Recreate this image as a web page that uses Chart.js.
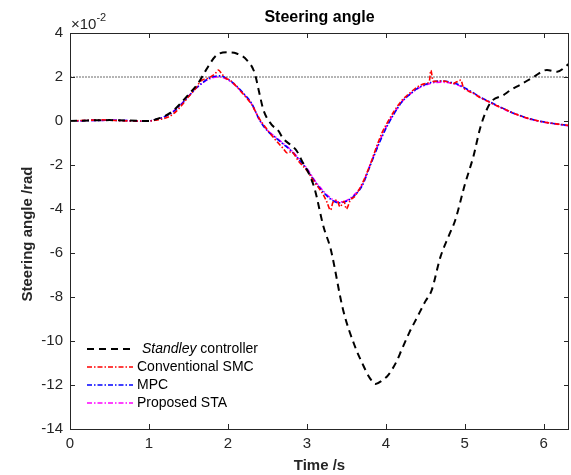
<!DOCTYPE html>
<html>
<head>
<meta charset="utf-8">
<script src="https://cdn.jsdelivr.net/npm/chart.js@4.4.1/dist/chart.umd.min.js"></script>
<style>
html,body{margin:0;padding:0;background:#fff;}
#wrap{width:571px;height:475px;}
</style>
</head>
<body>
<div id="wrap"><canvas id="c" width="571" height="475"></canvas></div>
<script>
// Steering angle values in units of 1e-2 rad
const seriesNames = ["Standley controller", "Conventional SMC", "MPC", "Proposed STA"];
const xTicks = [0, 1, 2, 3, 4, 5, 6];
const yTicks = [-14, -12, -10, -8, -6, -4, -2, 0, 2, 4];
const refLevel = 2;

const tStandley = [0,0.5,1.0,1.1,1.2,1.3,1.4,1.5,1.62,1.72,1.86,2.0,2.11,2.24,2.34,2.39,2.45,2.55,2.64,2.7,2.8,2.87,2.95,3.04,3.1,3.21,3.3,3.46,3.61,3.7,3.8,3.87,3.95,4.03,4.14,4.2,4.3,4.39,4.5,4.58,4.69,4.8,4.88,5.0,5.11,5.2,5.32,5.49,5.6,5.7,5.87,6.04,6.17,6.32];
const standley  = [0,0.04,0,0.09,0.22,0.45,0.8,1.2,1.7,2.3,3.0,3.12,3.07,2.77,2.17,1.4,0.5,-0.15,-0.45,-0.8,-1.1,-1.35,-1.9,-2.5,-3.1,-4.8,-5.8,-8.6,-10.26,-11.0,-11.7,-11.95,-11.8,-11.55,-10.9,-10.4,-9.6,-8.97,-8.2,-7.7,-6.2,-5.2,-4.5,-2.9,-1.6,-0.26,0.8,1.18,1.45,1.64,2.0,2.32,2.24,2.6];

const tGrid = [0,0.1,0.2,0.3,0.4,0.5,0.6,0.7,0.8,0.9,1.0,1.1,1.2,1.3,1.4,1.5,1.6,1.7,1.8,1.9,2.0,2.1,2.2,2.3,2.4,2.5,2.6,2.7,2.8,2.9,3.0,3.1,3.2,3.3,3.4,3.5,3.6,3.7,3.8,3.9,4.0,4.1,4.2,4.3,4.4,4.5,4.6,4.7,4.8,4.9,5.0,5.1,5.2,5.3,5.4,5.5,5.6,5.7,5.8,5.9,6.0,6.1,6.2,6.32];
const mpc = [0,0,0.02,0.03,0.03,0.04,0.03,0.02,0,-0.01,0,0.08,0.2,0.4,0.72,1.12,1.5,1.8,2.0,2.05,1.9,1.62,1.25,0.8,0.05,-0.45,-0.75,-1.05,-1.35,-1.75,-2.2,-2.75,-3.2,-3.55,-3.72,-3.65,-3.4,-2.95,-2.05,-1.15,-0.35,0.3,0.85,1.2,1.48,1.66,1.78,1.82,1.78,1.68,1.5,1.3,1.08,0.9,0.72,0.55,0.38,0.25,0.12,0.03,-0.04,-0.1,-0.15,-0.21];
const sta = [0,0,0.02,0.03,0.03,0.04,0.03,0.02,0,-0.01,0,0.08,0.2,0.42,0.74,1.12,1.5,1.78,1.96,2.0,1.87,1.6,1.22,0.78,0.05,-0.42,-0.72,-1.02,-1.32,-1.72,-2.15,-2.7,-3.15,-3.5,-3.68,-3.62,-3.35,-2.9,-2.0,-1.1,-0.3,0.32,0.86,1.2,1.46,1.63,1.74,1.76,1.74,1.65,1.48,1.28,1.06,0.88,0.7,0.53,0.37,0.24,0.11,0.02,-0.05,-0.11,-0.16,-0.22];

const tSMC = [0,0.2,0.4,0.6,0.8,1.0,1.1,1.2,1.3,1.4,1.5,1.6,1.65,1.7,1.75,1.8,1.85,1.88,1.92,1.97,2.03,2.1,2.2,2.3,2.4,2.5,2.6,2.7,2.75,2.8,2.9,3.0,3.1,3.2,3.25,3.3,3.33,3.38,3.42,3.47,3.5,3.55,3.6,3.7,3.8,3.9,3.95,4.0,4.1,4.2,4.3,4.4,4.5,4.55,4.57,4.6,4.7,4.8,4.85,4.9,4.95,4.98,5.05,5.1,5.2,5.3,5.4,5.5,5.6,5.7,5.8,5.9,6.0,6.1,6.2,6.32];
const smc  = [0,0.03,0.05,0.02,0,0,0.05,0.12,0.3,0.65,1.1,1.52,1.8,1.9,1.95,2.05,2.2,2.32,2.15,1.95,1.85,1.6,1.2,0.75,0.1,-0.4,-0.85,-1.25,-1.45,-1.4,-1.85,-2.25,-2.8,-3.3,-3.65,-4.05,-3.7,-3.6,-3.9,-3.65,-4.0,-3.6,-3.45,-2.85,-2.0,-1.0,-0.55,-0.2,0.42,0.92,1.26,1.55,1.7,1.78,2.3,1.8,1.82,1.76,1.7,1.78,1.86,1.55,1.35,1.28,1.05,0.88,0.7,0.55,0.38,0.24,0.12,0.03,-0.05,-0.1,-0.15,-0.2];

const zip = (xs, ys) => xs.map((x, i) => ({x: x, y: ys[i]}));
const FONT = "'Liberation Sans', Arial, Helvetica, sans-serif";
const TXT = '#262626';
const dashDot = [5, 2, 1.5, 2];

const datasets = [
  {label: seriesNames[0], data: zip(tStandley, standley), borderColor: '#000000', borderWidth: 2, borderDash: [7, 5]},
  {label: seriesNames[1], data: zip(tSMC, smc), borderColor: '#ff0000', borderWidth: 1.6, borderDash: dashDot},
  {label: seriesNames[2], data: zip(tGrid, mpc), borderColor: '#0000ff', borderWidth: 1.6, borderDash: dashDot},
  {label: seriesNames[3], data: zip(tGrid, sta), borderColor: '#ff00ff', borderWidth: 1.6, borderDash: dashDot}
].map(d => Object.assign(d, {pointRadius: 0, fill: false, tension: 0.3, cubicInterpolationMode: 'monotone'}));

const decor = {
  id: 'decor',
  beforeDatasetsDraw(chart) {
    const {ctx, chartArea: a, scales: {x, y}} = chart;
    ctx.save();
    const yr = y.getPixelForValue(refLevel);
    ctx.strokeStyle = '#444';
    ctx.lineWidth = 0.8;
    ctx.setLineDash([2, 1]);
    ctx.beginPath(); ctx.moveTo(a.left, yr); ctx.lineTo(a.right, yr); ctx.stroke();
    ctx.restore();
  },
  afterDraw(chart) {
    const {ctx, chartArea: a, scales: {x, y}} = chart;
    ctx.save();
    ctx.strokeStyle = TXT; ctx.lineWidth = 1; ctx.setLineDash([]);
    ctx.strokeRect(Math.round(a.left) + 0.5, Math.round(a.top) + 0.5, Math.round(a.right - a.left) - 1, Math.round(a.bottom - a.top));
    const L = 5;
    ctx.beginPath();
    xTicks.forEach(v => {
      const px = Math.round(x.getPixelForValue(v)) + 0.5;
      ctx.moveTo(px, a.bottom); ctx.lineTo(px, a.bottom - L);
      ctx.moveTo(px, a.top); ctx.lineTo(px, a.top + L);
    });
    yTicks.forEach(v => {
      const py = Math.round(y.getPixelForValue(v)) + 0.5;
      ctx.moveTo(a.left, py); ctx.lineTo(a.left + L, py);
      ctx.moveTo(a.right, py); ctx.lineTo(a.right - L, py);
    });
    ctx.stroke();
    ctx.fillStyle = '#000';
    ctx.textAlign = 'center'; ctx.textBaseline = 'middle';
    ctx.font = 'bold 16px ' + FONT;
    ctx.fillText('Steering angle', (a.left + a.right) / 2, 18);
    ctx.fillStyle = TXT;
    ctx.font = 'bold 15px ' + FONT;
    ctx.fillText('Time /s', (a.left + a.right) / 2, 466);
    ctx.save();
    ctx.translate(28, 234);
    ctx.rotate(-Math.PI / 2);
    ctx.fillText('Steering angle /rad', 0, 0);
    ctx.restore();
    ctx.textAlign = 'left'; ctx.textBaseline = 'alphabetic';
    ctx.font = '15px ' + FONT;
    ctx.fillText('\u00d710', 71, 29);
    const w = ctx.measureText('\u00d710').width;
    ctx.font = '11px ' + FONT;
    ctx.fillText('-2', 71 + w, 21);
    const lx0 = 87, lx1 = 133, rows = [349, 367, 385, 403];
    datasets.forEach((d, i) => {
      const yy = rows[i];
      ctx.strokeStyle = d.borderColor;
      ctx.lineWidth = d.borderWidth;
      ctx.setLineDash(d.borderDash);
      ctx.beginPath(); ctx.moveTo(lx0, yy); ctx.lineTo(i === 0 ? 131 : lx1, yy); ctx.stroke();
    });
    ctx.setLineDash([]);
    ctx.fillStyle = '#000';
    ctx.textBaseline = 'middle';
    ctx.font = 'italic 14px ' + FONT;
    ctx.fillText('Standley', 142, rows[0]);
    const sw = ctx.measureText('Standley ').width;
    ctx.font = '14px ' + FONT;
    ctx.fillText('controller', 142 + sw, rows[0]);
    for (let i = 1; i < 4; i++) ctx.fillText(seriesNames[i], 137, rows[i]);
    ctx.restore();
  }
};

new Chart(document.getElementById('c'), {
  type: 'line',
  data: {datasets: datasets},
  options: {
    responsive: false,
    animation: false,
    layout: {padding: {left: 0, right: 2, top: 33, bottom: 0}},
    plugins: {legend: {display: false}, title: {display: false}, tooltip: {enabled: false}},
    scales: {
      x: {
        type: 'linear', min: 0, max: 6.32,
        grid: {display: false, drawTicks: false},
        border: {display: false},
        afterBuildTicks: s => { s.ticks = xTicks.map(v => ({value: v})); },
        afterFit: s => { s.height = 46; },
        ticks: {padding: 6, color: TXT, font: {family: FONT, size: 15}, maxRotation: 0}
      },
      y: {
        type: 'linear', min: -14, max: 4,
        grid: {display: false, drawTicks: false},
        border: {display: false},
        afterBuildTicks: s => { s.ticks = yTicks.map(v => ({value: v})); },
        afterFit: s => { s.width = 70; },
        ticks: {padding: 7, color: TXT, font: {family: FONT, size: 15}}
      }
    }
  },
  plugins: [decor]
});
</script>
</body>
</html>
